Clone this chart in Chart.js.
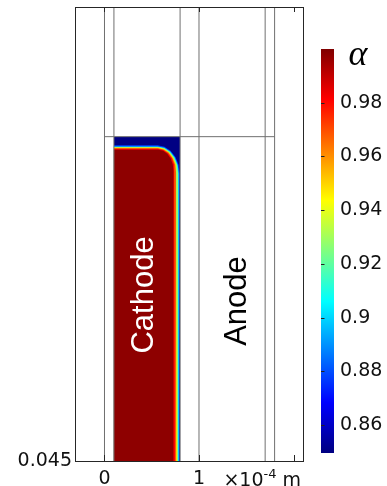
<!DOCTYPE html>
<html>
<head>
<meta charset="utf-8">
<script src="https://cdn.jsdelivr.net/npm/chart.js@4.4.1/dist/chart.umd.min.js"></script>
<style>
  html, body { margin: 0; padding: 0; background: #fff; }
  #wrap { position: relative; width: 387px; height: 486px; overflow: hidden; }
  #wrap canvas { position: absolute; left: 0; top: 0; }
</style>
</head>
<body>
<div id="wrap">
  <canvas id="field" width="387" height="486"></canvas>
  <canvas id="cbar" width="387" height="486"></canvas>
</div>
<script>
// x: position in units of 1e-4 m; y: height above 0.045 m in units of 1e-4 m
const xTickValues = [0, 1, 2];
const xTickLabels = ['0', '1', ''];
const yTickValues = [0];
const yTickLabels = ['0.045'];
const xRange = [-0.312, 2.1005];
const yRange = [0, 4.804];

// Domain boundaries (vertical lines at these x, plus the top edge of the electrodes)
const boundaryX = [0, 0.1, 0.8, 1.0, 1.7, 1.8];
const boundaryTopX = [0, 1.8];
const boundaryTopY = 3.432;

// Cathode domain
const cathodeX = [0.1, 0.8];
const cathodeTopY = 3.432;

// Iso-lines of alpha inside the cathode, as [x, y] pairs
const contour0865 = [[0.1, 0], [0.1, 3.340], [0.562, 3.340], [0.634, 3.326], [0.699, 3.284], [0.751, 3.218], [0.784, 3.136], [0.795, 3.044], [0.795, 0]];
const contour0890 = [[0.1, 0], [0.1, 3.329], [0.564, 3.329], [0.633, 3.315], [0.695, 3.274], [0.744, 3.211], [0.775, 3.131], [0.786, 3.043], [0.786, 0]];
const contour0915 = [[0.1, 0], [0.1, 3.322], [0.566, 3.322], [0.632, 3.309], [0.691, 3.270], [0.738, 3.209], [0.768, 3.132], [0.778, 3.047], [0.778, 0]];
const contour0940 = [[0.1, 0], [0.1, 3.316], [0.566, 3.316], [0.628, 3.303], [0.684, 3.265], [0.729, 3.207], [0.757, 3.133], [0.767, 3.051], [0.767, 0]];
const contour0960 = [[0.1, 0], [0.1, 3.309], [0.567, 3.309], [0.626, 3.297], [0.679, 3.261], [0.721, 3.204], [0.748, 3.134], [0.757, 3.055], [0.757, 0]];
const contour0975 = [[0.1, 0], [0.1, 3.303], [0.566, 3.303], [0.622, 3.291], [0.672, 3.257], [0.712, 3.203], [0.737, 3.135], [0.746, 3.060], [0.746, 0]];
const contour0990 = [[0.1, 0], [0.1, 3.293], [0.571, 3.293], [0.620, 3.282], [0.664, 3.251], [0.700, 3.202], [0.722, 3.140], [0.730, 3.071], [0.730, 0]];

// alpha value inside the cathode and inside each successive iso-line
const bandAlpha = [0.85, 0.878, 0.903, 0.927, 0.95, 0.968, 0.982, 0.998];

// Colour scale
const cbarMin = 0.8496;
const cbarMax = 1.0;
const cbarTicks = [0.86, 0.88, 0.90, 0.92, 0.94, 0.96, 0.98];
const cbarTickLabels = ['0.86', '0.88', '0.9', '0.92', '0.94', '0.96', '0.98'];

// Region names
const regionNames = ['Cathode', 'Anode'];

// ---- colour map (rainbow / jet) ----
const cmapPos = [0, 0.125, 0.375, 0.625, 0.875, 1];
const cmapRGB = [[0, 0, 128], [0, 0, 255], [0, 255, 255], [255, 255, 0], [255, 0, 0], [128, 0, 0]];
function alphaColor(v) {
  let t = (v - cbarMin) / (cbarMax - cbarMin);
  t = Math.min(1, Math.max(0, t));
  for (let i = 1; i < cmapPos.length; i++) {
    if (t <= cmapPos[i]) {
      const f = (t - cmapPos[i - 1]) / (cmapPos[i] - cmapPos[i - 1]);
      const c = cmapRGB[i - 1].map((a, k) => Math.round(a + (cmapRGB[i][k] - a) * f));
      return 'rgb(' + c.join(',') + ')';
    }
  }
  return 'rgb(128,0,0)';
}

const FONT = 'DejaVu Sans';

// ---- field datasets ----
const cathodeShape = [[cathodeX[0], 0], [cathodeX[0], cathodeTopY], [cathodeX[1], cathodeTopY], [cathodeX[1], 0]];
const fieldShapes = [cathodeShape, contour0865, contour0890, contour0915, contour0940, contour0960, contour0975, contour0990];
const fieldSets = fieldShapes.map((shape, i) => ({
  data: shape.concat([shape[0]]).map(([x, y]) => ({ x, y })),
  backgroundColor: alphaColor(bandAlpha[i]),
  borderColor: 'rgba(0,0,0,0)',
  borderWidth: 0,
  fill: 'shape',
  pointRadius: 0,
  tension: 0,
  order: 50 - i
}));

const edgeStyle = { borderColor: '#707070', borderWidth: 1, pointRadius: 0, fill: false, tension: 0, order: 1 };
const lineSets = boundaryX.map(bx => Object.assign({
  data: [{ x: bx, y: yRange[0] }, { x: bx, y: yRange[1] }]
}, edgeStyle));
lineSets.push(Object.assign({
  data: boundaryTopX.map(x => ({ x, y: boundaryTopY }))
}, edgeStyle));

// frame, inner tick marks, region names and the axis multiplier
const framePlugin = {
  id: 'frame',
  afterDatasetsDraw(chart) {
    const { ctx, chartArea: a, scales: { x, y } } = chart;
    ctx.save();

    // region names, written bottom-to-top
    const labelSpots = [
      { x: 0.516, y: 1.757, color: '#ffffff' },
      { x: 1.497, y: 1.693, color: '#000000' }
    ];
    ctx.font = '31px "Liberation Sans"';
    ctx.textAlign = 'center';
    ctx.textBaseline = 'alphabetic';
    regionNames.forEach((name, i) => {
      const s = labelSpots[i];
      ctx.save();
      ctx.translate(x.getPixelForValue(s.x), y.getPixelForValue(s.y));
      ctx.rotate(-Math.PI / 2);
      ctx.fillStyle = s.color;
      ctx.fillText(name, 0, 0);
      ctx.restore();
    });

    // frame
    ctx.strokeStyle = '#262626';
    ctx.lineWidth = 1;
    ctx.strokeRect(Math.round(a.left) + 0.5, Math.round(a.top) + 0.5,
                   Math.round(a.right - a.left), Math.round(a.bottom - a.top));

    // inward tick marks on bottom and top edges
    ctx.beginPath();
    xTickValues.forEach(v => {
      const px = Math.round(x.getPixelForValue(v)) + 0.5;
      ctx.moveTo(px, a.bottom); ctx.lineTo(px, a.bottom - 6);
      ctx.moveTo(px, a.top); ctx.lineTo(px, a.top + 5);
    });
    ctx.stroke();

    // axis multiplier ×10^-4 m
    const parts = [
      { t: '\u00d710', font: '19px "' + FONT + '"', dy: 0 },
      { t: '-4', font: '13px "' + FONT + '"', dy: -8 },
      { t: ' m', font: '19px "' + FONT + '"', dy: 0 }
    ];
    let total = 0;
    parts.forEach(p => { ctx.font = p.font; p.w = ctx.measureText(p.t).width; total += p.w; });
    let cx = a.right - 2 - total;
    const base = a.bottom + 24.5;
    ctx.fillStyle = '#111';
    ctx.textAlign = 'left';
    parts.forEach(p => { ctx.font = p.font; ctx.fillText(p.t, cx, base + p.dy); cx += p.w; });
    ctx.restore();
  }
};

new Chart(document.getElementById('field'), {
  type: 'line',
  data: { datasets: [...fieldSets, ...lineSets] },
  options: {
    responsive: false,
    animation: false,
    devicePixelRatio: 1,
    events: [],
    layout: { padding: { left: 0, top: 7, right: 84, bottom: 0 } },
    plugins: { legend: { display: false }, tooltip: { enabled: false } },
    scales: {
      x: {
        type: 'linear', min: xRange[0], max: xRange[1],
        grid: { display: false, drawTicks: false },
        border: { display: false },
        afterBuildTicks: s => { s.ticks = xTickValues.map(value => ({ value })); },
        afterFit: s => { s.height = 25; s.paddingLeft = 0; s.paddingRight = 0; },
        ticks: {
          autoSkip: false, maxRotation: 0, padding: 7, color: '#111',
          font: { family: FONT, size: 19 },
          callback: (v, i) => xTickLabels[i]
        }
      },
      y: {
        type: 'linear', min: yRange[0], max: yRange[1],
        grid: { display: false, drawTicks: false },
        border: { display: false },
        afterBuildTicks: s => { s.ticks = yTickValues.map(value => ({ value })); },
        afterFit: s => { s.width = 75; s.paddingTop = 0; s.paddingBottom = 0; },
        ticks: {
          autoSkip: false, padding: 3, color: '#111',
          font: { family: FONT, size: 19 },
          callback: (v, i) => yTickLabels[i]
        }
      }
    }
  },
  plugins: [framePlugin]
});

// ---- colour bar ----
const cbarPlugin = {
  id: 'cbarMarks',
  afterDatasetsDraw(chart) {
    const { ctx, chartArea: a, scales: { y } } = chart;
    ctx.save();
    ctx.strokeStyle = '#222';
    ctx.lineWidth = 1;
    ctx.beginPath();
    cbarTicks.forEach(v => {
      const py = Math.round(y.getPixelForValue(v)) + 0.5;
      ctx.moveTo(a.left, py); ctx.lineTo(a.left + 3.5, py);
    });
    ctx.stroke();
    ctx.font = 'italic 36px "Liberation Serif"';
    ctx.fillStyle = '#000';
    ctx.textAlign = 'center';
    ctx.textBaseline = 'alphabetic';
    ctx.fillText('\u03b1', a.right + 24, a.top + 15.5);
    ctx.restore();
  }
};

new Chart(document.getElementById('cbar'), {
  type: 'bar',
  data: {
    labels: ['\u03b1'],
    datasets: [{
      data: [[cbarMin, cbarMax]],
      backgroundColor: context => {
        const chart = context.chart;
        const ys = chart.scales.y;
        if (!chart.chartArea || !ys) return alphaColor(0.925);
        const g = chart.ctx.createLinearGradient(0, ys.getPixelForValue(cbarMin), 0, ys.getPixelForValue(cbarMax));
        cmapPos.forEach((p, i) => g.addColorStop(p, 'rgb(' + cmapRGB[i].join(',') + ')'));
        return g;
      },
      borderWidth: 0,
      barPercentage: 1,
      categoryPercentage: 1
    }]
  },
  options: {
    responsive: false,
    animation: false,
    devicePixelRatio: 1,
    events: [],
    layout: { padding: { left: 321, top: 49, right: 0, bottom: 33 } },
    plugins: { legend: { display: false }, tooltip: { enabled: false } },
    scales: {
      x: { display: false },
      y: {
        position: 'right', min: cbarMin, max: cbarMax,
        grid: { display: false, drawTicks: false },
        border: { display: false },
        afterBuildTicks: s => { s.ticks = cbarTicks.map(value => ({ value })); },
        afterFit: s => { s.width = 53; s.paddingTop = 0; s.paddingBottom = 0; },
        ticks: {
          autoSkip: false, padding: 6, color: '#111',
          font: { family: FONT, size: 19 },
          callback: (v, i) => cbarTickLabels[i]
        }
      }
    }
  },
  plugins: [cbarPlugin]
});
</script>
</body>
</html>
